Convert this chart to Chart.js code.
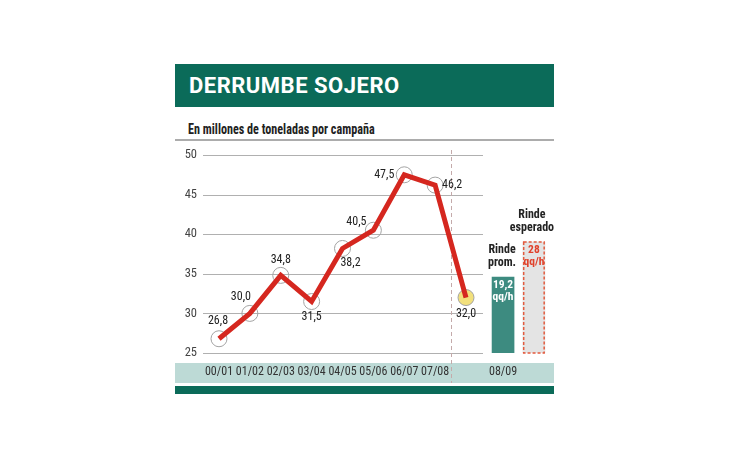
<!DOCTYPE html>
<html>
<head>
<meta charset="utf-8">
<script src="https://cdn.jsdelivr.net/npm/chart.js@4.4.1/dist/chart.umd.min.js"></script>
<style>
  body { margin:0; background:#fff; font-family:'Roboto Condensed','Roboto',sans-serif; }
  #header { position:absolute; left:175px; top:64px; width:379px; height:43px; background:#0b6b59; }
  #header h1 { margin:0; padding-left:14px; line-height:44px; color:#fff; font-family:'Roboto',sans-serif; font-size:22px; font-weight:bold; letter-spacing:0.5px; }
  #subtitle { position:absolute; left:188px; top:120px; font-size:15px; font-weight:bold; color:#222; white-space:nowrap; transform:scaleX(0.81); transform-origin:0 0; }
  #rule { position:absolute; left:175px; top:139px; width:379px; height:2px; background:#acacac; }
  #wrap { position:absolute; left:175px; top:145px; width:379px; height:250px; }
</style>
</head>
<body>
<div id="header"><h1>DERRUMBE SOJERO</h1></div>
<div id="subtitle">En millones de toneladas por campaña</div>
<div id="rule"></div>
<div id="wrap"><canvas id="sojaChart"></canvas></div>
<script>
// campañas y producción (millones de toneladas)
const campaigns = ['00/01','01/02','02/03','03/04','04/05','05/06','06/07','07/08','08/09'];
const production = [26.8, 30.0, 34.8, 31.5, 38.2, 40.5, 47.5, 46.2, 32.0];
const yTicks = [25, 30, 35, 40, 45, 50];
// rinde 08/09 (qq/h)
const yieldNames = [['Rinde','prom.'], ['Rinde','esperado']];
const yieldValues = [19.2, 28];
const yieldUnit = 'qq/h';

const FONT = "'Roboto Condensed','Roboto',sans-serif";
Chart.defaults.font.family = FONT;

function fmt(v) {
  return v.toFixed(1).replace('.', ',');
}

// where things sit on the linear x axis
const tickSlots = [0,1,2,3,4,5,6,7,9.2];
const barSlots = [9.2, 10.2];
const splitAt = 7.5;
const gridEnd = 8.55;
// label offsets (px) for each point
const labelOffsets = [[-1,-18],[-9,-16],[0,-15],[0,15],[8,15],[-17,-8],[-20,0],[17,0],[0,16]];

const decor = {
  id: 'decor',
  beforeDraw(chart) {
    const ctx = chart.ctx;
    const area = chart.chartArea;
    const x = chart.scales.x, y = chart.scales.y;
    ctx.save();
    // tick band + bottom bar
    ctx.fillStyle = '#bddad6';
    ctx.fillRect(0, area.bottom + 10, chart.width, 20);
    ctx.fillStyle = '#0b6b59';
    ctx.fillRect(0, area.bottom + 33, chart.width, 8);
    // horizontal grid
    ctx.strokeStyle = '#b0b0b0';
    ctx.lineWidth = 1;
    const xEnd = x.getPixelForValue(gridEnd);
    yTicks.forEach(t => {
      const py = Math.round(y.getPixelForValue(t)) + 0.5;
      ctx.beginPath();
      ctx.moveTo(area.left, py);
      ctx.lineTo(xEnd, py);
      ctx.stroke();
    });
    // dashed separator
    const sx = Math.round(x.getPixelForValue(splitAt)) + 0.5;
    ctx.strokeStyle = '#c4aaaa';
    ctx.setLineDash([4, 3]);
    ctx.beginPath();
    ctx.moveTo(sx, area.top - 5);
    ctx.lineTo(sx, area.bottom + 30);
    ctx.stroke();
    ctx.restore();
  },
  afterDatasetsDraw(chart) {
    const ctx = chart.ctx;
    ctx.save();
    // point labels
    const pts = chart.getDatasetMeta(0).data;
    ctx.font = '12px ' + FONT;
    ctx.fillStyle = '#222';
    ctx.textAlign = 'center';
    ctx.textBaseline = 'middle';
    pts.forEach((p, i) => {
      const off = labelOffsets[i];
      ctx.fillText(fmt(production[i]), p.x + off[0], p.y + off[1]);
    });
    // bars: dashed outline, inner values, names above
    const bars = chart.getDatasetMeta(2).data;
    bars.forEach((b, i) => {
      const left = b.x - b.width / 2;
      if (i === 1) {
        ctx.strokeStyle = '#e25a3e';
        ctx.lineWidth = 1.5;
        ctx.setLineDash([3, 2]);
        ctx.strokeRect(left + 0.75, b.y, b.width - 1.5, b.base - b.y);
        ctx.setLineDash([]);
      }
      ctx.font = 'bold 11.5px ' + FONT;
      ctx.fillStyle = i === 0 ? '#ffffff' : '#e0402a';
      const val = Number.isInteger(yieldValues[i]) ? String(yieldValues[i]) : fmt(yieldValues[i]);
      ctx.fillText(val, b.x, b.y + 8);
      ctx.fillText(yieldUnit, b.x, b.y + 20);
      ctx.font = 'bold 12px ' + FONT;
      ctx.fillStyle = '#222';
      ctx.fillText(yieldNames[i][0], b.x - 1 - i, b.y - 27);
      ctx.fillText(yieldNames[i][1], b.x - 1 - i, b.y - 14);
    });
    ctx.restore();
  }
};

const ctx = document.getElementById('sojaChart').getContext('2d');
new Chart(ctx, {
  data: {
    datasets: [{
      type: 'line',
      data: production.map((v, i) => ({ x: i, y: v })),
      borderColor: '#d5271f',
      borderWidth: 5,
      pointRadius: 0,
      tension: 0,
      order: 1
    }, {
      type: 'line',
      data: production.map((v, i) => ({ x: i, y: v })),
      showLine: false,
      pointRadius: 8,
      pointBorderWidth: 1,
      pointBorderColor: '#a3a3a3',
      pointBackgroundColor: production.map((v, i) => i === production.length - 1 ? '#f2e07c' : 'rgba(255,255,255,0)'),
      order: 2
    }, {
      type: 'bar',
      yAxisID: 'y2',
      data: yieldValues.map((v, i) => ({ x: barSlots[i], y: v })),
      backgroundColor: ['#3d8b80', '#e4e4e4'],
      barThickness: 22,
      order: 3
    }]
  },
  options: {
    responsive: true,
    maintainAspectRatio: false,
    animation: false,
    layout: { autoPadding: false, padding: { top: 10, left: 0, right: 0, bottom: 0 } },
    plugins: { legend: { display: false }, tooltip: { enabled: false } },
    scales: {
      x: {
        type: 'linear',
        offset: false,
        min: -0.518,
        max: 10.85,
        grid: { display: false, drawTicks: false },
        border: { display: false },
        afterBuildTicks: s => { s.ticks = tickSlots.map(v => ({ value: v })); },
        afterFit: s => { s.height = 42; s.paddingLeft = 0; s.paddingRight = 0; },
        ticks: {
          autoSkip: false,
          maxRotation: 0,
          padding: 12,
          color: '#333',
          font: { size: 12 },
          callback: (v, i) => campaigns[i]
        }
      },
      y: {
        min: 25,
        max: 50,
        grid: { display: false, drawTicks: false },
        border: { display: false },
        afterFit: s => { s.width = 28; s.paddingTop = 0; s.paddingBottom = 0; },
        ticks: { stepSize: 5, padding: 6, color: '#444', font: { size: 12.5 } }
      },
      y2: {
        display: false,
        min: 0,
        max: 50
      }
    }
  },
  plugins: [decor]
});
</script>
</body>
</html>
